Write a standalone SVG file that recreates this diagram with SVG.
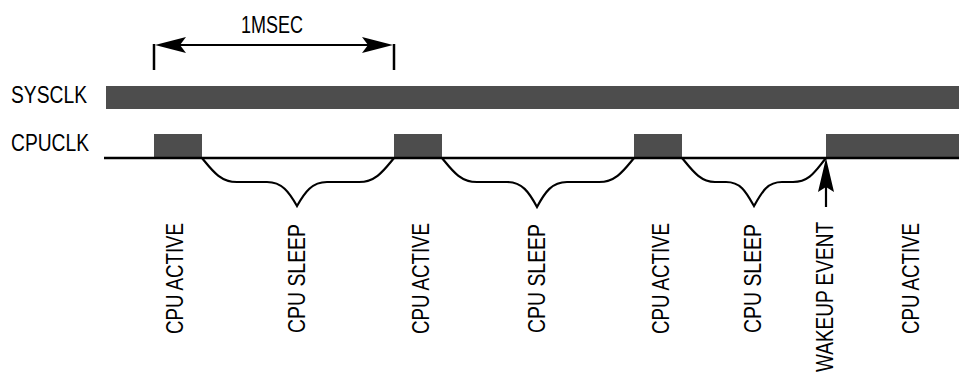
<svg xmlns="http://www.w3.org/2000/svg" width="959" height="372" viewBox="0 0 959 372">
<style>
.bar{fill:#4d4d4d}
.ln{fill:none;stroke:#000;stroke-width:2.2}
.base{fill:none;stroke:#000;stroke-width:2.6}
.ah{fill:#000}
text{font-family:"Liberation Sans",Arial,sans-serif;font-size:23.5px;fill:#000}
</style>
<rect width="959" height="372" fill="#fff"/>
<g id="labels">
<text x="11" y="103" textLength="76" lengthAdjust="spacingAndGlyphs">SYSCLK</text>
<text x="11" y="151" textLength="78" lengthAdjust="spacingAndGlyphs">CPUCLK</text>
</g>
<g id="sysclk"><rect class="bar" x="106" y="86" width="853" height="23"/></g>
<g id="cpuclk">
<rect class="bar" x="154" y="134" width="48" height="24"/>
<rect class="bar" x="394" y="134" width="48" height="24"/>
<rect class="bar" x="634" y="134" width="48" height="24"/>
<rect class="bar" x="826" y="134" width="133" height="24"/>
<line class="base" x1="104" y1="158" x2="959" y2="158"/>
</g>
<g id="connectors">
<g id="msec">
<line class="ln" x1="154" y1="44" x2="154" y2="70" style="stroke-width:2.5"/>
<line class="ln" x1="394" y1="44" x2="394" y2="70" style="stroke-width:2.5"/>
<line class="ln" x1="170" y1="45" x2="380" y2="45"/>
<polygon class="ah" points="155,45 186,37 180,45 186,53"/>
<polygon class="ah" points="393,45 362,37 368,45 362,53"/>
<text x="241" y="33" textLength="62" lengthAdjust="spacingAndGlyphs">1MSEC</text>
</g>
<path class="ln" d="M202 158 C212 170 220 182 237 182 L267 182 C282 182 289 192 297 206 C305 192 312 182 327 182 L359 182 C376 182 384 170 394 158"/>
<path class="ln" d="M442 158 C452 170 460 182 477 182 L507 182 C522 182 529 192 537 207 C545 192 552 182 567 182 L599 182 C616 182 624 170 634 158"/>
<path class="ln" d="M682 158 C692 170 700 182 715 182 L726 182 C741 182 746 192 754 206 C762 192 767 182 782 182 L793 182 C810 182 816 170 826 158"/>
<line class="ln" x1="826" y1="180" x2="826" y2="207"/>
<polygon class="ah" points="826,158 818,192 826,187 834,192"/>
</g>
<g id="states">
<text transform="translate(183,334) rotate(-90)" textLength="111" lengthAdjust="spacingAndGlyphs">CPU ACTIVE</text>
<text transform="translate(305,333) rotate(-90)" textLength="109" lengthAdjust="spacingAndGlyphs">CPU SLEEP</text>
<text transform="translate(429,334) rotate(-90)" textLength="111" lengthAdjust="spacingAndGlyphs">CPU ACTIVE</text>
<text transform="translate(545,333) rotate(-90)" textLength="109" lengthAdjust="spacingAndGlyphs">CPU SLEEP</text>
<text transform="translate(669,334) rotate(-90)" textLength="111" lengthAdjust="spacingAndGlyphs">CPU ACTIVE</text>
<text transform="translate(761,333) rotate(-90)" textLength="109" lengthAdjust="spacingAndGlyphs">CPU SLEEP</text>
<text transform="translate(833,372) rotate(-90)" textLength="150" lengthAdjust="spacingAndGlyphs">WAKEUP EVENT</text>
<text transform="translate(919,334) rotate(-90)" textLength="111" lengthAdjust="spacingAndGlyphs">CPU ACTIVE</text>
</g>
</svg>
